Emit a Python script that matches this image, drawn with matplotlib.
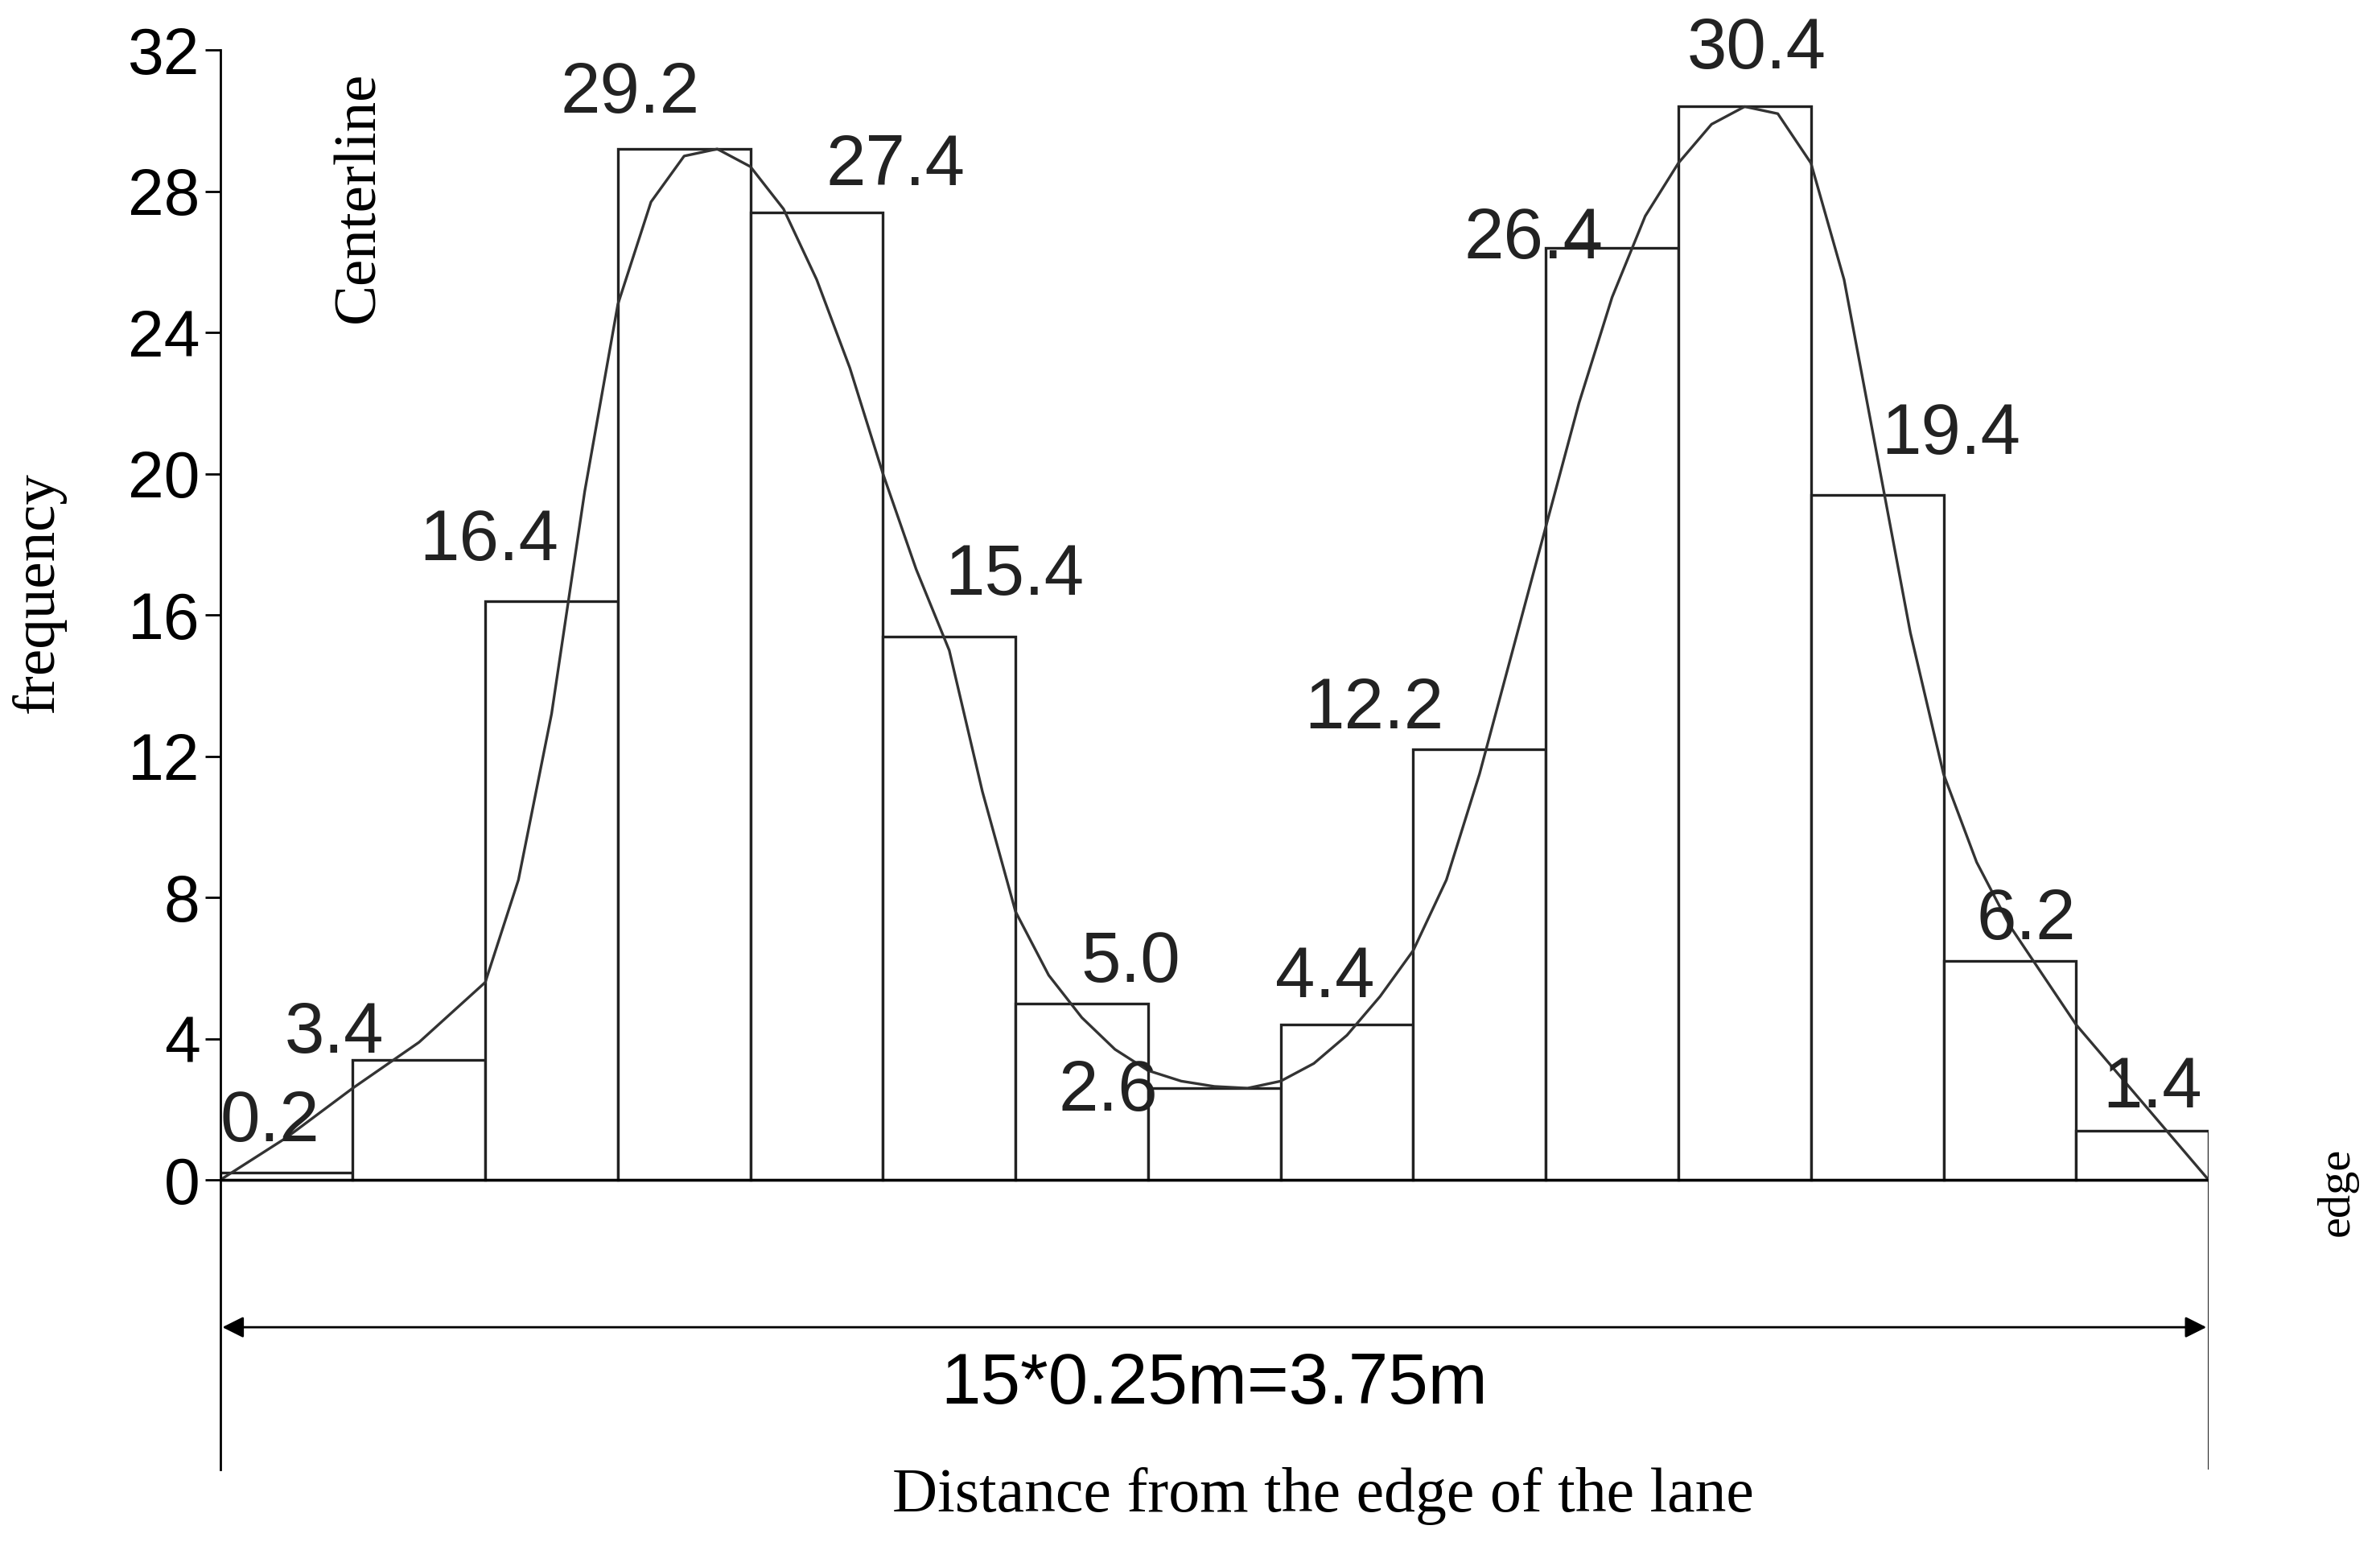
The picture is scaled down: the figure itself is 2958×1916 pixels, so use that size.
import numpy as np
import matplotlib.pyplot as plt

values = [0.2, 3.4, 16.4, 29.2, 27.4, 15.4, 5.0, 2.6, 4.4, 12.2, 26.4, 30.4, 19.4, 6.2, 1.4]
labels = ["0.2", "3.4", "16.4", "29.2", "27.4", "15.4", "5.0", "2.6", "4.4", "12.2", "26.4", "30.4", "19.4", "6.2", "1.4"]
# fitted curve (x in bar widths)
curve_x = [0, 0.5, 1, 1.5, 2, 2.25, 2.5, 2.75, 3, 3.25, 3.5, 3.75, 4, 4.25, 4.5, 4.75, 5, 5.25, 5.5, 5.75, 6, 6.25,
           6.5, 6.75, 7, 7.25, 7.5, 7.75, 8, 8.25, 8.5, 8.75, 9, 9.25, 9.5, 9.75, 10, 10.25, 10.5, 10.75, 11, 11.25,
           11.5, 11.75, 12, 12.25, 12.5, 12.75, 13, 13.25, 13.5, 13.75, 14, 14.5, 15]
curve_y = [0, 1.2, 2.6, 3.9, 5.6, 8.5, 13.2, 19.5, 24.8, 27.7, 29.0, 29.2, 28.7, 27.5, 25.5, 23.0, 20.0, 17.3, 15.0, 11.0, 7.6, 5.8,
           4.6, 3.7, 3.1, 2.8, 2.65, 2.6, 2.8, 3.3, 4.1, 5.2, 6.5, 8.5, 11.5, 15.0, 18.5, 22.0, 25.0, 27.3, 28.8, 29.9,
           30.4, 30.2, 28.8, 25.5, 20.5, 15.5, 11.5, 9.0, 7.2, 5.8, 4.4, 2.2, 0]
# label anchor positions (display px of a 1568x1016 copy)
label_px_x = [178, 220, 322, 415, 590, 668, 745, 730, 873, 905, 1010, 1157, 1285, 1335, 1418]
label_px_y = [740, 682, 357, 62, 110, 380, 635, 720, 645, 468, 158, 33, 287, 607, 718]

fig = plt.figure(figsize=(29.58, 19.16), dpi=100)
ax = fig.add_axes([0.0925, 0.047, 0.8355, 0.9205])
ax.set_xlim(0, 15)
ax.set_ylim(-8.2, 32)
for s in ["top", "right", "bottom"]:
    ax.spines[s].set_visible(False)
ax.spines["left"].set_linewidth(2)

x = np.arange(len(values))
ax.bar(x, values, width=1, align="edge", facecolor="white", edgecolor="#222222", linewidth=2.4)
ax.plot(curve_x, curve_y, color="#333333", linewidth=2.4)
ax.plot([0, 15], [0, 0], color="black", linewidth=2.4)
ax.plot([15, 15], [-8.2, 0], color="black", linewidth=2)

for lab, px, py in zip(labels, label_px_x, label_px_y):
    ax.text((px - 145) / 87.33, (778 - py) / 23.28, lab, ha="center", va="center",
            fontsize=64, family="Liberation Sans", color="#222222")

ax.set_yticks(range(0, 33, 4))
ax.set_yticklabels([str(v) for v in range(0, 33, 4)], fontsize=58, family="Liberation Sans")
ax.tick_params(axis="y", direction="out", length=14, width=2, pad=4)
ax.set_xticks([])

ax.annotate("", xy=(0, -4.17), xytext=(15, -4.17),
            arrowprops=dict(arrowstyle="<|-|>", color="black", lw=2, mutation_scale=40))
ax.text(7.5, -5.8, "15*0.25m=3.75m", ha="center", va="center", fontsize=64, family="Liberation Sans")

fig.text(0.556, 0.03, "Distance from the edge of the lane", ha="center", va="center",
         fontsize=56, family="Liberation Serif")
fig.text(0.016, 0.616, "frequency", rotation=90, ha="center", va="center", fontsize=54, family="Liberation Serif")
fig.text(0.151, 0.872, "Centerline", rotation=90, ha="center", va="center", fontsize=54, family="Liberation Serif")
fig.text(0.982, 0.227, "edge", rotation=90, ha="center", va="center", fontsize=42, family="Liberation Serif")

fig.savefig("out.png", dpi=100)
